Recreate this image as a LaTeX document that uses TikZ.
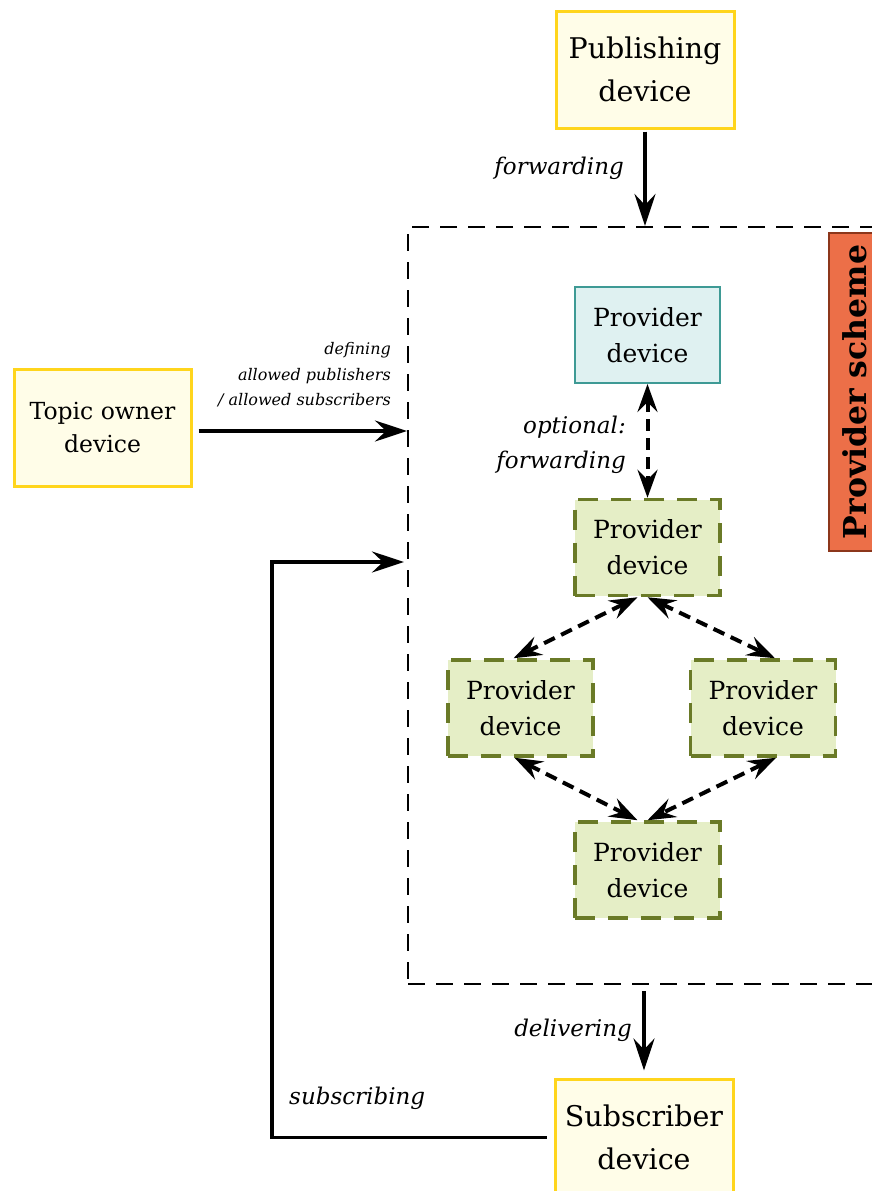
\documentclass[tikz,border=0pt]{standalone}
\usepackage{fontspec}
\setmainfont{DejaVu Serif}
\usetikzlibrary{arrows.meta,calc}
\definecolor{devborder}{HTML}{FFD51C}
\definecolor{devfill}{HTML}{FFFDE8}
\definecolor{tealborder}{HTML}{3E9A95}
\definecolor{tealfill}{HTML}{DFF1F1}
\definecolor{oliveborder}{HTML}{6A7A27}
\definecolor{olivefill}{HTML}{E5EEC6}
\definecolor{schemefill}{HTML}{EC6F48}
\definecolor{schemeborder}{HTML}{8C361B}
\begin{document}
\begin{tikzpicture}[x=1pt,y=-1pt,
  devbox/.style={draw=devborder, fill=devfill, line width=3pt, align=center, inner sep=0pt,
    minimum width=178pt, minimum height=117pt},
  bigtext/.style={font=\fontsize{28.5}{43}\selectfont},
  provbox/.style={align=center, inner sep=0pt, minimum width=145pt, minimum height=96pt,
    font=\fontsize{25}{36}\selectfont},
  mainprov/.style={provbox, draw=tealborder, fill=tealfill, line width=2pt},
  peerprov/.style={provbox, draw=oliveborder, fill=olivefill, line width=3.5pt,
    dash pattern=on 20pt off 13pt},
  area/.style={draw, line width=2pt, dash pattern=on 17pt off 11pt, inner sep=0pt},
  arr/.style={line width=3.5pt, -{Stealth[length=32pt,width=21pt,inset=11pt]}},
  darr/.style={line width=4pt, dash pattern=on 12pt off 7pt,
    {Stealth[length=28pt,width=20pt,inset=10pt]}-{Stealth[length=28pt,width=20pt,inset=10pt]}},
  lbl/.style={font=\itshape\fontsize{23}{35}\selectfont, inner sep=0pt},
  smalllbl/.style={font=\itshape\fontsize{16}{25.5}\selectfont, inner sep=0pt, align=right}
]
\clip (0,0) rectangle (872,1191);

% dashed region of the provider scheme
\node[area, minimum width=542pt, minimum height=757pt] (area) at (679,605.5) {};
\node[rotate=90, fill=schemefill, draw=schemeborder, line width=2pt, inner sep=0pt,
  minimum width=318pt, minimum height=52pt, font=\bfseries\fontsize{31.5}{36}\selectfont]
  (schemelbl) at (855,392) {Provider scheme};

% outer devices
\node[devbox, bigtext] (pub) at (645,69.5) {Publishing\\device};
\node[devbox, minimum width=177pt, font=\fontsize{23.5}{33}\selectfont] (topic) at (102.5,427.5) {Topic owner\\device};
\node[devbox, bigtext] (sub) at (644,1137.5) {Subscriber\\device};

% providers
\node[mainprov] (top) at (647.5,335) {Provider\\device};
\node[peerprov] (p1) at (647.5,547.5) {Provider\\device};
\node[peerprov] (p2) at (520.5,708) {Provider\\device};
\node[peerprov] (p3) at (763,708) {Provider\\device};
\node[peerprov] (p4) at (647.5,870) {Provider\\device};

% connectors to and from the scheme
\draw[arr] ([yshift=-2pt]pub.south) -- (pub.south |- area.north);
\node[lbl, anchor=east] (fwdlbl) at (624,168) {forwarding};

\draw[arr] ([xshift=6pt,yshift=-3.5pt]topic.east) -- ([yshift=-3.5pt]topic.east -| area.west);
\node[smalllbl, anchor=east] (deflbl) at (391,375) {defining\\allowed publishers\\/ allowed subscribers};

\draw[arr] ([yshift=-6pt]area.south -| sub.north) -- ([yshift=7pt]sub.north);
\node[lbl, anchor=east] (dellbl) at (632,1030) {delivering};

\coordinate (turn) at (272,562);
\draw[arr] ([xshift=-7pt]sub.west) -| (turn) -- ([xshift=-3pt]turn -| area.west);
\node[lbl, anchor=west] (sublbl) at (289,1098) {subscribing};

% provider links
\draw[darr] (top.south) -- (p1.north);
\node[lbl, anchor=east, align=right] (optlbl) at (626,445) {optional:\\forwarding};
\draw[darr] ([xshift=-10pt]p1.south) -- ([xshift=-7pt]p2.north);
\draw[darr] (p1.south) -- ([xshift=12pt]p3.north);
\draw[darr] ([xshift=-6pt]p2.south) -- ([xshift=-10pt]p4.north);
\draw[darr] ([xshift=13pt]p3.south) -- (p4.north);
\end{tikzpicture}
\end{document}
